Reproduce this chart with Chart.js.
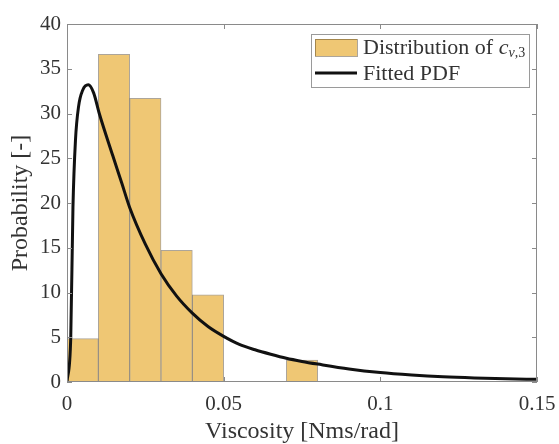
<!DOCTYPE html>
<html lang="en">
<head>
  <meta charset="UTF-8">
  <title>Viscosity distribution</title>
  <script src="https://cdn.jsdelivr.net/npm/chart.js"></script>
  <style>
    html, body { margin: 0; padding: 0; background: #fff; }
    .wrap { width: 559px; height: 444px; }
  </style>
</head>
<body>
  <div class="wrap"><canvas id="histChart" width="559" height="444"></canvas></div>

  <script>
    // histogram bins (centre of each 0.01 wide bin) and heights
    const binCenters = [0.005, 0.015, 0.025, 0.035, 0.045, 0.075];
    const binHeights = [4.85, 36.6, 31.7, 14.7, 9.75, 2.45];

    // fitted pdf
    const pdfX = [0, 0.0012, 0.0019, 0.0027, 0.0037, 0.0050, 0.0068, 0.0085, 0.0103, 0.0146, 0.0175,
                  0.0200, 0.0250, 0.0300, 0.0350, 0.0400, 0.0450, 0.0500, 0.0550, 0.0600, 0.0650,
                  0.0700, 0.0750, 0.0800, 0.0900, 0.1000, 0.1100, 0.1200, 0.1300, 0.1400, 0.1500];
    const pdfY = [0, 5.0, 19.5, 27.0, 30.8, 32.6, 33.2, 32.3, 30.0, 25.3, 22.2,
                  19.5, 15.4, 12.1, 9.6, 7.7, 6.2, 5.1, 4.2, 3.6, 3.1,
                  2.65, 2.3, 2.0, 1.45, 1.05, 0.78, 0.58, 0.45, 0.36, 0.3];

    const xTicks = [0, 0.05, 0.1, 0.15];
    const yTicks = [0, 5, 10, 15, 20, 25, 30, 35, 40];

    const SERIF = "'Liberation Serif', 'Times New Roman', serif";
    const barFill = '#EFC774';
    const barEdge = 'rgba(70,55,30,0.45)';
    const textCol = '#333';

    // box round the axes with inward ticks, MATLAB style
    const frame = {
      id: 'frame',
      afterDatasetsDraw(chart) {
        const { ctx, chartArea: a, scales: { x, y } } = chart;
        ctx.save();
        ctx.strokeStyle = '#8a8a8a';
        ctx.lineWidth = 1;
        ctx.strokeRect(a.left + 0.5, a.top + 0.5, a.width - 1, a.height - 1);
        ctx.beginPath();
        xTicks.forEach(v => {
          const px = Math.round(x.getPixelForValue(v)) + 0.5;
          ctx.moveTo(px, a.bottom); ctx.lineTo(px, a.bottom - 5);
          ctx.moveTo(px, a.top); ctx.lineTo(px, a.top + 5);
        });
        yTicks.forEach(v => {
          const py = Math.round(y.getPixelForValue(v)) + 0.5;
          ctx.moveTo(a.left, py); ctx.lineTo(a.left + 5, py);
          ctx.moveTo(a.right, py); ctx.lineTo(a.right - 5, py);
        });
        ctx.stroke();
        ctx.restore();
      },
      afterDraw(chart) {
        // legend box
        const { ctx } = chart;
        const ds = chart.data.datasets;
        const bx = 311, by = 34, bw = 218, bh = 53;
        ctx.save();
        ctx.fillStyle = '#fff';
        ctx.fillRect(bx, by, bw, bh);
        ctx.strokeStyle = '#9a9a9a';
        ctx.lineWidth = 1;
        ctx.strokeRect(bx + 0.5, by + 0.5, bw, bh);

        // histogram entry
        ctx.fillStyle = barFill;
        ctx.fillRect(315, 39, 42, 17);
        ctx.strokeStyle = barEdge;
        ctx.strokeRect(315.5, 39.5, 42, 17);

        // pdf entry
        ctx.strokeStyle = '#111';
        ctx.lineWidth = 3;
        ctx.beginPath();
        ctx.moveTo(315, 73); ctx.lineTo(357, 73);
        ctx.stroke();

        ctx.fillStyle = textCol;
        ctx.textBaseline = 'middle';
        ctx.textAlign = 'left';
        ctx.font = '22px ' + SERIF;
        const t1 = ds[1].label;
        ctx.fillText(t1, 363, 48);
        let cx = 363 + ctx.measureText(t1).width;
        ctx.font = 'italic 22px ' + SERIF;
        ctx.fillText('c', cx, 48);
        cx += ctx.measureText('c').width;
        ctx.font = 'italic 14px ' + SERIF;
        ctx.fillText('v', cx, 53);
        cx += ctx.measureText('v').width;
        ctx.font = '14px ' + SERIF;
        ctx.fillText(',3', cx, 53);

        ctx.font = '22px ' + SERIF;
        ctx.fillText(ds[0].label, 363, 74);
        ctx.restore();
      }
    };

    const ctx = document.getElementById('histChart').getContext('2d');
    new Chart(ctx, {
      type: 'bar',
      data: {
        datasets: [
          {
            type: 'line',
            label: 'Fitted PDF',
            data: pdfX.map((v, i) => ({ x: v, y: pdfY[i] })),
            borderColor: '#111',
            borderWidth: 3,
            pointRadius: 0,
            fill: false,
            cubicInterpolationMode: 'monotone'
          },
          {
            type: 'bar',
            label: 'Distribution of ',
            data: binCenters.map((v, i) => ({ x: v, y: binHeights[i] })),
            backgroundColor: barFill,
            borderColor: barEdge,
            borderWidth: 1,
            barPercentage: 1,
            categoryPercentage: 1
          }
        ]
      },
      options: {
        responsive: false,
        animation: false,
        events: [],
        layout: { padding: { left: 0, right: 22, top: 24, bottom: 0 } },
        plugins: {
          legend: { display: false },
          tooltip: { enabled: false }
        },
        scales: {
          x: {
            type: 'linear',
            min: 0,
            max: 0.15,
            offset: false,
            grid: { display: false, drawTicks: false, offset: false },
            border: { display: false },
            afterBuildTicks: s => { s.ticks = xTicks.map(v => ({ value: v })); },
            afterFit: s => { s.height = 62; s.paddingLeft = 0; s.paddingRight = 0; },
            ticks: {
              padding: 10,
              color: textCol,
              font: { family: SERIF, size: 21 },
              maxRotation: 0,
              callback: v => String(v)
            },
            title: {
              display: true,
              text: 'Viscosity [Nms/rad]',
              color: textCol,
              font: { family: SERIF, size: 24, lineHeight: 1 },
              padding: { top: 0, bottom: 0 }
            }
          },
          y: {
            min: 0,
            max: 40,
            grid: { display: false, drawTicks: false },
            border: { display: false },
            afterBuildTicks: s => { s.ticks = yTicks.map(v => ({ value: v })); },
            afterFit: s => { s.width = 67; s.paddingTop = 0; s.paddingBottom = 0; },
            ticks: {
              padding: 6,
              color: textCol,
              font: { family: SERIF, size: 21 }
            },
            title: {
              display: true,
              text: 'Probability [-]',
              color: textCol,
              font: { family: SERIF, size: 24, lineHeight: 1 },
              padding: { top: 9, bottom: 0 }
            }
          }
        }
      },
      plugins: [frame]
    });
  </script>
</body>
</html>
